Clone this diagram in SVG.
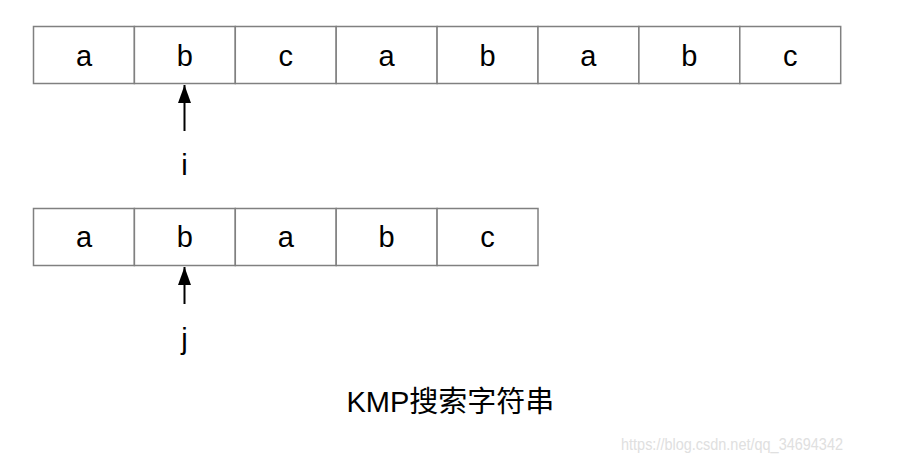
<svg xmlns="http://www.w3.org/2000/svg" width="900" height="462" viewBox="0 0 900 462">
<style>
.cell{fill:#ffffff;stroke:#808080;stroke-width:1.5}
.t{font-family:"Liberation Sans",Arial,sans-serif;font-size:29px;fill:#000;text-anchor:middle}
.arr{stroke:#000;stroke-width:2;fill:none}
.title{font-family:"Liberation Sans","Noto Sans CJK SC",sans-serif;font-size:29px;fill:#000}
.wm{font-family:"Liberation Sans",sans-serif;font-size:17px;fill:#e0e0e0}
</style>
<defs>
<marker id="ah" markerWidth="18" markerHeight="14" refX="18" refY="7" orient="auto" markerUnits="userSpaceOnUse" viewBox="0 0 18 14">
<path d="M0,0.5 L18,7 L0,13.5 Z" fill="#000"/>
</marker>
</defs>
<g id="text-row">
<g id="t0"><rect class="cell" x="33.5" y="26.5" width="100.9" height="57"/><text class="t" x="84" y="66">a</text></g>
<g id="t1"><rect class="cell" x="134.4" y="26.5" width="100.9" height="57"/><text class="t" x="184.8" y="66">b</text></g>
<g id="t2"><rect class="cell" x="235.3" y="26.5" width="100.9" height="57"/><text class="t" x="285.7" y="66">c</text></g>
<g id="t3"><rect class="cell" x="336.2" y="26.5" width="100.9" height="57"/><text class="t" x="386.6" y="66">a</text></g>
<g id="t4"><rect class="cell" x="437.1" y="26.5" width="100.9" height="57"/><text class="t" x="487.5" y="66">b</text></g>
<g id="t5"><rect class="cell" x="538" y="26.5" width="100.9" height="57"/><text class="t" x="588.4" y="66">a</text></g>
<g id="t6"><rect class="cell" x="638.9" y="26.5" width="100.9" height="57"/><text class="t" x="689.3" y="66">b</text></g>
<g id="t7"><rect class="cell" x="739.8" y="26.5" width="100.9" height="57"/><text class="t" x="790.2" y="66">c</text></g>
</g>
<g id="pattern-row">
<g id="p0"><rect class="cell" x="33.5" y="208.5" width="100.9" height="57"/><text class="t" x="84" y="247">a</text></g>
<g id="p1"><rect class="cell" x="134.4" y="208.5" width="100.9" height="57"/><text class="t" x="184.8" y="247">b</text></g>
<g id="p2"><rect class="cell" x="235.3" y="208.5" width="100.9" height="57"/><text class="t" x="285.7" y="247">a</text></g>
<g id="p3"><rect class="cell" x="336.2" y="208.5" width="100.9" height="57"/><text class="t" x="386.6" y="247">b</text></g>
<g id="p4"><rect class="cell" x="437.1" y="208.5" width="100.9" height="57"/><text class="t" x="487.5" y="247">c</text></g>
</g>
<g id="label-i"><text class="t" x="184.5" y="175">i</text></g>
<g id="label-j"><text class="t" x="184.5" y="349">j</text></g>
<g id="connectors">
<line class="arr" x1="184.5" y1="131" x2="184.5" y2="85" marker-end="url(#ah)"/>
<line class="arr" x1="184.5" y1="304" x2="184.5" y2="267" marker-end="url(#ah)"/>
</g>
<text class="title" x="346.5" y="411.5">KMP搜索字符串</text>
<text class="wm" x="621" y="450" textLength="222" lengthAdjust="spacingAndGlyphs">https://blog.csdn.net/qq_34694342</text>
</svg>
